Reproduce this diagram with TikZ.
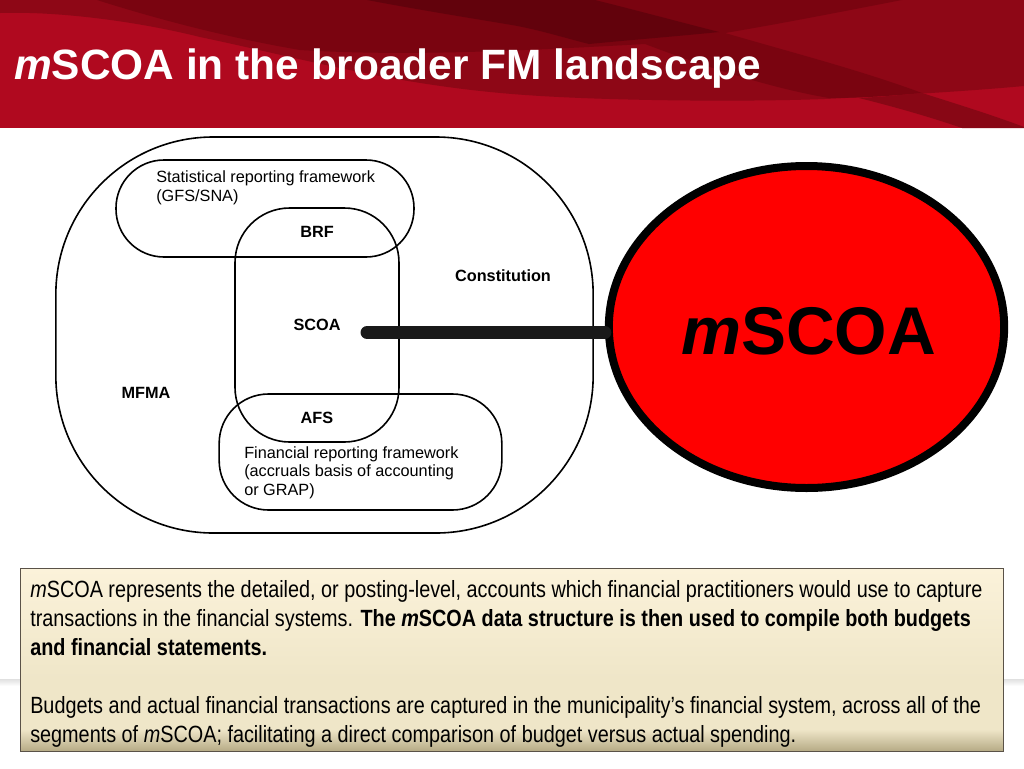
\documentclass[tikz,border=0pt]{standalone}
\usepackage{fontspec}
\setmainfont{Liberation Sans}
\newfontfamily\narrowfont[FakeStretch=0.845]{Liberation Sans}
\usetikzlibrary{shapes.geometric}
\definecolor{bannerbase}{HTML}{B0091F}
\definecolor{bannermid}{HTML}{8E0716}
\definecolor{bannerdark}{HTML}{7A0410}
\definecolor{bannerdeep}{HTML}{62020C}
\definecolor{boxedge}{HTML}{5A5248}
\definecolor{bfA}{HTML}{B5AA85}
\definecolor{bfB}{HTML}{EFE6C8}
\definecolor{bfC}{HTML}{FBF2DA}
\pgfdeclareverticalshading{boxfade}{100bp}{color(0bp)=(bfA); color(25bp)=(bfA); color(31bp)=(bfB); color(45bp)=(bfB); color(75bp)=(bfC); color(100bp)=(bfC)}
\tikzset{
  x=0.75pt,y=-0.75pt,
  ring/.style={draw=black,line width=1.2pt,fill=none,inner sep=0pt},
  lbl/.style={font=\fontsize{12.2pt}{13.9pt}\selectfont,anchor=west,inner sep=0pt,align=left},
  blbl/.style={font=\fontsize{12.2pt}{13.9pt}\selectfont\bfseries,inner sep=0pt},
  bodyline/.style={font=\fontsize{17.6pt}{20pt}\narrowfont,anchor=base west,inner sep=0pt,text=black},
}
\begin{document}
\begin{tikzpicture}
\useasboundingbox (0,0) rectangle (1024,768);
\fill[white] (0,0) rectangle (1024,768);
% faint band behind the text box
\shade[top color=black!12,bottom color=white] (0,679) rectangle (1024,686);
% banner
\fill[bannerbase] (0,0) rectangle (1024,128);
\fill[bannermid] (0,13) .. controls (60,11) and (140,22) .. (200,37) .. controls (300,58) and (390,84) .. (512,94) .. controls (610,102) and (780,102) .. (845,98) .. controls (900,95) and (970,91) .. (1024,86) -- (1024,0) -- (0,0) -- cycle;
\fill[bannerdark] (97,0) .. controls (160,20) and (230,38) .. (300,50) .. controls (400,56) and (500,52) .. (645,44) .. controls (700,65) and (770,88) .. (829,98) .. controls (860,98) and (890,96) .. (922,93) .. controls (860,70) and (790,52) .. (725,33) .. controls (790,22) and (850,10) .. (902,0) -- cycle;
\fill[bannerdeep] (367,0) .. controls (420,10) and (470,18) .. (512,25) .. controls (540,30) and (565,38) .. (589,44) .. controls (630,40) and (680,36) .. (719,32) .. controls (680,22) and (635,10) .. (595,0) -- cycle;
\fill[bannermid!96!black] (859,98) .. controls (880,97) and (900,95) .. (922,93) .. controls (960,105) and (995,116) .. (1024,127) -- (1024,128) -- (962,128) .. controls (930,117) and (895,107) .. (859,98) -- cycle;
\node[font=\fontsize{31.8pt}{36pt}\selectfont\bfseries,text=white,anchor=base west,inner sep=0pt] (title) at (14,79) {\textit{m}SCOA in the broader FM landscape};
% nested frames
\node[ring,rounded corners=118pt,minimum width=403pt,minimum height=297pt] (outer) at (324.5,335) {};
\node[ring,rounded corners=36pt,minimum width=223.5pt,minimum height=72.75pt] (stat) at (265,208.5) {};
\node[ring,rounded corners=41pt,minimum width=123pt,minimum height=175.5pt] (scoabox) at (317,325) {};
\node[ring,rounded corners=37pt,minimum width=212pt,minimum height=87pt] (fin) at (360.5,452) {};
% labels
\node[lbl] (stattext) at (156,188) {Statistical reporting framework\\(GFS/SNA)};
\node[blbl] (brf) at (317,232) {BRF};
\node[blbl] (constitution) at (503,276) {Constitution};
\node[blbl] (scoa) at (317,325) {SCOA};
\node[blbl] (mfma) at (146,393) {MFMA};
\node[blbl] (afs) at (317,418) {AFS};
\node[lbl] (fintext) at (244,472.5) {Financial reporting framework\\(accruals basis of accounting\\or GRAP)};
% mSCOA circle
\coordinate (stub) at (367,332.5);
\node[ellipse,draw=black,fill=red,line width=6pt,minimum width=296.5pt,minimum height=241.5pt,inner sep=0pt] (mscoa) at (806.5,327) {};
\draw[draw=black!90,line width=9.75pt,line cap=round] (stub) -- (mscoa.west |- stub);
\node[font=\fontsize{50.6pt}{54pt}\selectfont\bfseries,inner sep=0pt] (mscoatext) at (808.5,331) {\textit{m}SCOA};
% text box
\node[draw=boxedge,line width=1.2pt,minimum width=737.5pt,minimum height=137pt,inner sep=0pt,shade,shading=boxfade] (box) at (512,660) {};
\node[bodyline] (l1) at (30,597) {\textit{m}SCOA represents the detailed, or posting-level, accounts which financial practitioners would use to capture};
\node[bodyline] (l2) at (30,626) {transactions in the financial systems. \textbf{The \textit{m}SCOA data structure is then used to compile both budgets}};
\node[bodyline] (l3) at (30,655) {\textbf{and financial statements.}};
\node[bodyline] (l4) at (30,713) {Budgets and actual financial transactions are captured in the municipality’s financial system, across all of the};
\node[bodyline] (l5) at (30,742) {segments of \textit{m}SCOA; facilitating a direct comparison of budget versus actual spending.};
\end{tikzpicture}
\end{document}
